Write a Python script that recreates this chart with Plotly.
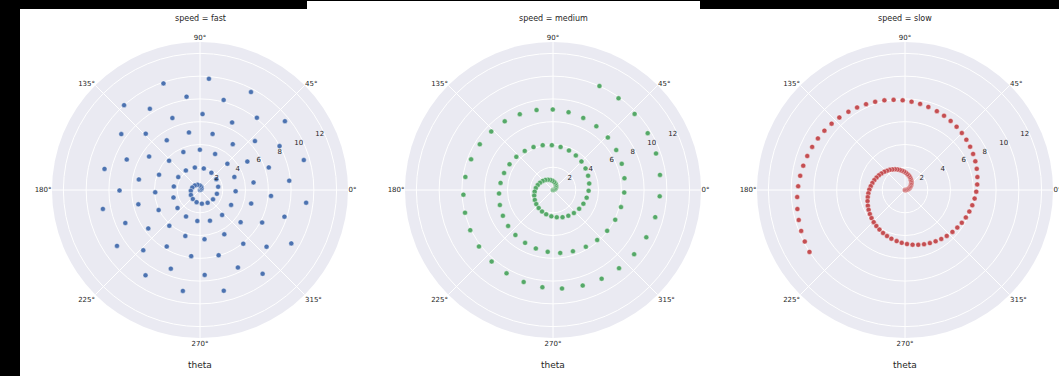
import plotly.graph_objects as go

W, H = 1059, 376

# ---- data (r and theta in radians) ----
r_vals = [0.00, 0.10, 0.20, 0.30, 0.40, 0.51, 0.61, 0.71, 0.81, 0.91,
          1.01, 1.11, 1.21, 1.31, 1.41, 1.52, 1.62, 1.72, 1.82, 1.92,
          2.02, 2.12, 2.22, 2.32, 2.42, 2.53, 2.63, 2.73, 2.83, 2.93,
          3.03, 3.13, 3.23, 3.33, 3.43, 3.54, 3.64, 3.74, 3.84, 3.94,
          4.04, 4.14, 4.24, 4.34, 4.44, 4.55, 4.65, 4.75, 4.85, 4.95,
          5.05, 5.15, 5.25, 5.35, 5.45, 5.56, 5.66, 5.76, 5.86, 5.96,
          6.06, 6.16, 6.26, 6.36, 6.46, 6.57, 6.67, 6.77, 6.87, 6.97,
          7.07, 7.17, 7.27, 7.37, 7.47, 7.58, 7.68, 7.78, 7.88, 7.98,
          8.08, 8.18, 8.28, 8.38, 8.48, 8.59, 8.69, 8.79, 8.89, 8.99,
          9.09, 9.19, 9.29, 9.39, 9.49, 9.60, 9.70, 9.80, 9.90, 10.00]

theta_slow = [0.00, 0.10, 0.20, 0.30, 0.40, 0.51, 0.61, 0.71, 0.81, 0.91,
              1.01, 1.11, 1.21, 1.31, 1.41, 1.52, 1.62, 1.72, 1.82, 1.92,
              2.02, 2.12, 2.22, 2.32, 2.42, 2.53, 2.63, 2.73, 2.83, 2.93,
              3.03, 3.13, 3.23, 3.33, 3.43, 3.54, 3.64, 3.74, 3.84, 3.94,
              4.04, 4.14, 4.24, 4.34, 4.44, 4.55, 4.65, 4.75, 4.85, 4.95,
              5.05, 5.15, 5.25, 5.35, 5.45, 5.56, 5.66, 5.76, 5.86, 5.96,
              6.06, 6.16, 6.26, 6.36, 6.46, 6.57, 6.67, 6.77, 6.87, 6.97,
              7.07, 7.17, 7.27, 7.37, 7.47, 7.58, 7.68, 7.78, 7.88, 7.98,
              8.08, 8.18, 8.28, 8.38, 8.48, 8.59, 8.69, 8.79, 8.89, 8.99,
              9.09, 9.19, 9.29, 9.39, 9.49, 9.60, 9.70, 9.80, 9.90, 10.00]

theta_medium = [0.00, 0.20, 0.40, 0.61, 0.81, 1.01, 1.21, 1.41, 1.62, 1.82,
                2.02, 2.22, 2.42, 2.63, 2.83, 3.03, 3.23, 3.43, 3.64, 3.84,
                4.04, 4.24, 4.44, 4.65, 4.85, 5.05, 5.25, 5.45, 5.66, 5.86,
                6.06, 6.26, 6.46, 6.67, 6.87, 7.07, 7.27, 7.47, 7.68, 7.88,
                8.08, 8.28, 8.48, 8.69, 8.89, 9.09, 9.29, 9.49, 9.70, 9.90,
                10.10, 10.30, 10.51, 10.71, 10.91, 11.11, 11.31, 11.52, 11.72, 11.92,
                12.12, 12.32, 12.53, 12.73, 12.93, 13.13, 13.33, 13.54, 13.74, 13.94,
                14.14, 14.34, 14.55, 14.75, 14.95, 15.15, 15.35, 15.56, 15.76, 15.96,
                16.16, 16.36, 16.57, 16.77, 16.97, 17.17, 17.37, 17.58, 17.78, 17.98,
                18.18, 18.38, 18.59, 18.79, 18.99, 19.19, 19.39, 19.60, 19.80, 20.00]

theta_fast = [0.00, 0.40, 0.81, 1.21, 1.62, 2.02, 2.42, 2.83, 3.23, 3.64,
              4.04, 4.44, 4.85, 5.25, 5.66, 6.06, 6.46, 6.87, 7.27, 7.68,
              8.08, 8.48, 8.89, 9.29, 9.70, 10.10, 10.51, 10.91, 11.31, 11.72,
              12.12, 12.53, 12.93, 13.33, 13.74, 14.14, 14.55, 14.95, 15.35, 15.76,
              16.16, 16.57, 16.97, 17.37, 17.78, 18.18, 18.59, 18.99, 19.39, 19.80,
              20.20, 20.61, 21.01, 21.41, 21.82, 22.22, 22.63, 23.03, 23.43, 23.84,
              24.24, 24.65, 25.05, 25.45, 25.86, 26.26, 26.67, 27.07, 27.47, 27.88,
              28.28, 28.69, 29.09, 29.49, 29.90, 30.30, 30.71, 31.11, 31.52, 31.92,
              32.32, 32.73, 33.13, 33.54, 33.94, 34.34, 34.75, 35.15, 35.56, 35.96,
              36.36, 36.77, 37.17, 37.58, 37.98, 38.38, 38.79, 39.19, 39.60, 40.00]

speeds = ["fast", "medium", "slow"]
thetas = [theta_fast, theta_medium, theta_slow]
colors = ["#4C72B0", "#55A868", "#C44E52"]

angle_ticks = [0, 45, 90, 135, 180, 225, 270, 315]
angle_labels = ["0°", "45°", "90°", "135°", "180°", "225°", "270°", "315°"]
r_ticks = [2, 4, 6, 8, 10, 12]
r_labels = ["2", "4", "6", "8", "10", "12"]

# ---- layout geometry (pixels) ----
centers_x = [200, 553, 905]
center_y = 190
radius = 148

fig = go.Figure()
layout = dict(
    width=W, height=H,
    margin=dict(l=0, r=0, t=0, b=0),
    paper_bgcolor="white",
    plot_bgcolor="white",
    showlegend=False,
    font=dict(family="DejaVu Sans", color="#262626"),
)

annotations = []
for i, (sp, th, col) in enumerate(zip(speeds, thetas, colors)):
    key = "polar" if i == 0 else f"polar{i+1}"
    fig.add_trace(go.Scatterpolar(
        r=r_vals, theta=th, thetaunit="radians", mode="markers", subplot=key,
        marker=dict(size=5, color=col, line=dict(color="white", width=0.4)),
        name=sp,
    ))
    cx = centers_x[i]
    layout[key] = dict(
        domain=dict(x=[(cx - radius) / W, (cx + radius) / W],
                    y=[1 - (center_y + radius) / H, 1 - (center_y - radius) / H]),
        bgcolor="#EAEAF2",
        angularaxis=dict(
            tickmode="array", tickvals=angle_ticks, ticktext=angle_labels,
            showline=False, ticks="", gridcolor="white", gridwidth=1,
            tickfont=dict(size=7, color="#262626"),
            direction="counterclockwise", rotation=0,
        ),
        radialaxis=dict(
            range=[0, 13], tickmode="array", tickvals=r_ticks, ticktext=r_labels,
            angle=22.5, tickangle=22.5, side="counterclockwise",
            showline=False, ticks="",
            gridcolor="white", gridwidth=1,
            tickfont=dict(size=7, color="#262626"),
        ),
    )
    annotations.append(dict(
        text=f"speed = {sp}", x=cx / W, y=1 - 19 / H, xref="paper", yref="paper",
        showarrow=False, font=dict(size=8, color="#262626"), xanchor="center", yanchor="middle"))
    annotations.append(dict(
        text="theta", x=cx / W, y=1 - 365 / H, xref="paper", yref="paper",
        showarrow=False, font=dict(size=9, color="#262626"), xanchor="center", yanchor="middle"))

layout["annotations"] = annotations

# black borders visible in the reference screenshot
def rect(x0, y0, x1, y1):
    return dict(type="rect", xref="paper", yref="paper",
                x0=x0 / W, x1=x1 / W, y0=1 - y1 / H, y1=1 - y0 / H,
                fillcolor="black", line=dict(width=0), layer="above")

layout["shapes"] = [
    rect(0, 0, 20, H),
    rect(0, 0, 307, 9),
    rect(307, 0, 700, 1),
    rect(700, 0, W, 9),
]

fig.update_layout(**layout)
fig.write_html("out.html")
